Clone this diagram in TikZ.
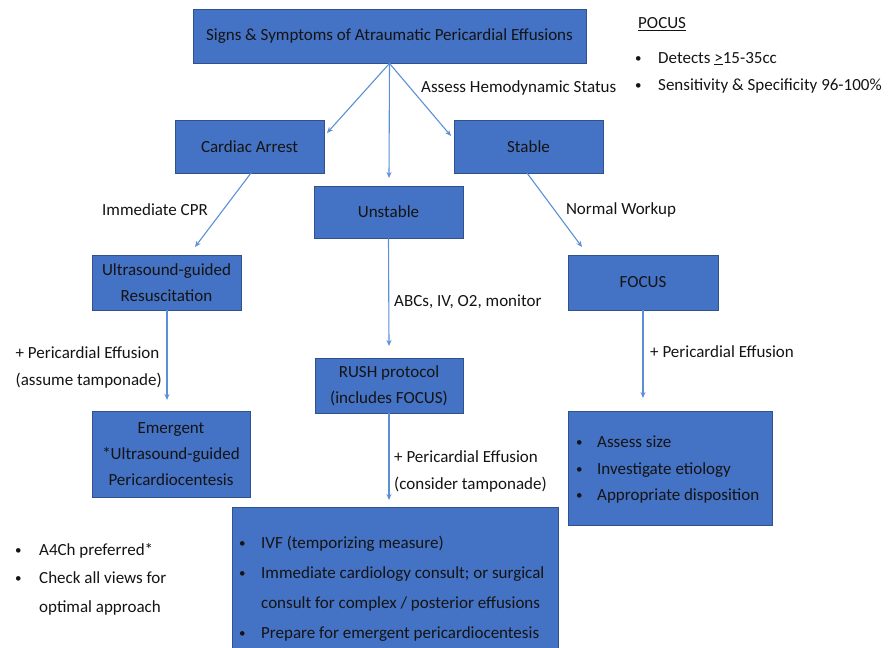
\documentclass[tikz,border=0pt]{standalone}
\usepackage{fontspec}
\setmainfont{Carlito}
\usetikzlibrary{arrows.meta}
\definecolor{boxfill}{HTML}{4472C4}
\definecolor{boxline}{HTML}{2F528F}
\definecolor{arrowc}{HTML}{5B8FD6}
\definecolor{txt}{HTML}{141414}
\newcommand{\mybul}{\makebox[6pt][l]{\raisebox{0.8pt}{\fontsize{13}{13}\selectfont\textbullet}}}
\tikzset{
  fbox/.style={draw=boxline, line width=0.8pt, fill=boxfill, text=txt, align=center,
    inner sep=0pt, font=\fontsize{17}{26}\selectfont},
  lbl/.style={text=txt, inner sep=0pt, font=\fontsize{17}{27}\selectfont, align=left},
  conn/.style={draw=arrowc, line width=1.1pt, -{Stealth[length=6pt,width=5pt]}},
}
\begin{document}
\begin{tikzpicture}[x=1pt,y=-1pt]
\useasboundingbox (0,0) rectangle (889,648);
% boxes
\node[fbox, minimum width=393, minimum height=54] (top) at (389.5,36) {Signs \& Symptoms of Atraumatic Pericardial Effusions};
\node[fbox, minimum width=149, minimum height=53] (ca) at (249.5,146.5) {Cardiac Arrest};
\node[fbox, minimum width=149, minimum height=53] (st) at (528.5,146.5) {Stable};
\node[fbox, minimum width=149, minimum height=52] (un) at (388.5,212) {Unstable};
\node[fbox, minimum width=149, minimum height=55] (us) at (166.5,282.5) {Ultrasound-guided\\Resuscitation};
\node[fbox, minimum width=150, minimum height=55] (fo) at (643,282.5) {FOCUS};
\node[fbox, minimum width=158, minimum height=86] (em) at (171,454) {Emergent\\*Ultrasound-guided\\Pericardiocentesis};
\node[fbox, minimum width=148, minimum height=55] (ru) at (389,385.5) {RUSH protocol\\(includes FOCUS)};
\node[fbox, minimum width=204, minimum height=114] (fb) at (670,468) {};
\node[fbox, minimum width=326, minimum height=160] (bb) at (395,587) {};
% bullet texts in right box
\node[lbl, anchor=north west] (fbt) at (576,429) {%
\fontsize{17}{26.5}\selectfont
\begin{tabular}{@{}l@{\hspace{15pt}}l@{}}
\mybul & Assess size\\
\mybul & Investigate etiology\\
\mybul & Appropriate disposition
\end{tabular}};
% bullet texts in bottom box
\node[lbl, anchor=north west] (bbt) at (239,527) {%
\fontsize{17}{30}\selectfont
\begin{tabular}{@{}l@{\hspace{16pt}}l@{}}
\mybul & IVF (temporizing measure)\\
\mybul & Immediate cardiology consult; or surgical\\
 & consult for complex / posterior effusions\\
\mybul & Prepare for emergent pericardiocentesis
\end{tabular}};
% left notes
\node[lbl, anchor=north west] (notes) at (15,535) {%
\fontsize{17}{28.5}\selectfont
\begin{tabular}{@{}l@{\hspace{18pt}}l@{}}
\mybul & A4Ch preferred*\\
\mybul & Check all views for\\
 & optimal approach
\end{tabular}};
% POCUS
\node[lbl, anchor=north west] (pocus) at (638,17) {\underline{POCUS}};
\node[lbl, anchor=north west] (pocusl) at (635,44) {%
\begin{tabular}{@{}l@{\hspace{17pt}}l@{}}
\mybul & Detects \underline{>}15-35cc\\
\mybul & Sensitivity \& Specificity 96-100\%
\end{tabular}};
% connector end points
\coordinate (caIn) at (327,133);
\coordinate (stIn) at (451,136);
\coordinate (unIn) at (389,178);
\coordinate (usIn) at (195,247);
\coordinate (foIn) at (582,247);
\coordinate (emIn) at (167,400);
\coordinate (ruIn) at (389,346);
\coordinate (bbIn) at (389,500);
\coordinate (fbIn) at (643,398);
\coordinate (caOut) at (251,173);
\coordinate (stOut) at (527,173);
\coordinate (usOut) at (167,310);
% connectors
\draw[conn] (top.south) -- (caIn);
\draw[conn] (top.south) -- (unIn);
\draw[conn] (top.south) -- (stIn);
\draw[conn] (caOut) -- (usIn);
\draw[conn] (stOut) -- (foIn);
\draw[conn] (usOut) -- (emIn);
\draw[conn] (un.south) -- (ruIn);
\draw[conn] (ru.south) -- (bbIn);
\draw[conn] (fo.south) -- (fbIn);
% connector labels
\node[lbl, anchor=west] (l1) at (421,88) {Assess Hemodynamic Status};
\node[lbl] (l2) at (155,210) {Immediate CPR};
\node[lbl] (l3) at (621,210) {Normal Workup};
\node[lbl, anchor=east] (l4) at (162,367) {+ Pericardial Effusion\\(assume tamponade)};
\node[lbl, anchor=west] (l5) at (394,302) {ABCs, IV, O2, monitor};
\node[lbl, anchor=west] (l6) at (394,471) {+ Pericardial Effusion\\(consider tamponade)};
\node[lbl, anchor=west] (l7) at (650,352) {+ Pericardial Effusion};
\end{tikzpicture}
\end{document}
